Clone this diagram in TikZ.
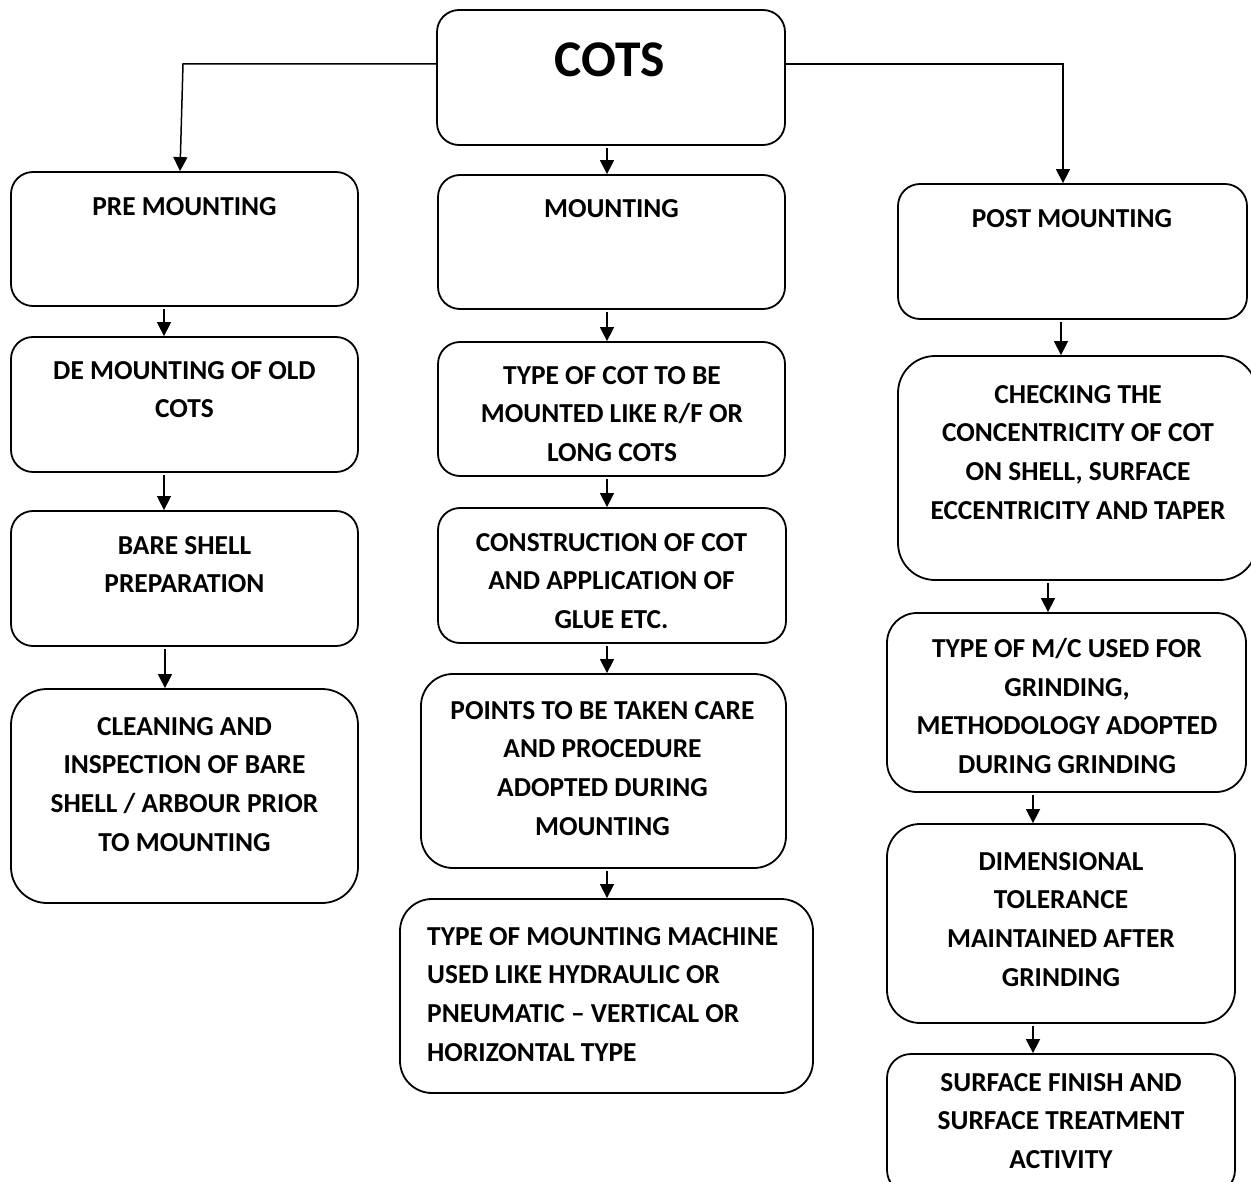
\documentclass[tikz,border=0pt]{standalone}
\usepackage{fontspec}
\setmainfont{Carlito}
\usetikzlibrary{arrows.meta}

\begin{document}
\begin{tikzpicture}
	[x=1pt,y=-1pt,
	box/.style={draw,line width=1.8pt,rounded corners=22pt,inner sep=0pt},
	txt/.style={anchor=north,inner sep=0pt,align=center,font=\bfseries\fontsize{27.4}{38.7}\selectfont},
	link/.style={->,line width=1.5pt,shorten <=2pt},
	>={Triangle[width=14pt,length=14pt]}]
	\useasboundingbox (0,0) rectangle (1251,1182);
	% top
	\node[box,minimum width=348pt,minimum height=135pt,name=cots] at (611,77.5) {};
	\node[txt,font=\bfseries\fontsize{51.5}{60}\selectfont,name=cotstxt] at (610,43) {COTS};
	% left column
	\node[box,minimum width=347pt,minimum height=134pt,name=pre] at (184.5,239) {};
	\node[box,minimum width=347pt,minimum height=135pt,name=demount] at (184.5,404.5) {};
	\node[box,minimum width=347pt,minimum height=135pt,name=bare] at (184.5,578.5) {};
	\node[box,minimum width=347pt,minimum height=214pt,rounded corners=36pt,name=clean] at (184.5,796) {};
	\node[txt,name=pretxt] at (184.5,197) {PRE MOUNTING};
	\node[txt,name=demounttxt] at (184.5,361) {DE MOUNTING OF OLD\\COTS};
	\node[txt,name=baretxt] at (184.5,536) {BARE SHELL\\PREPARATION};
	\node[txt,name=cleantxt] at (184.5,717) {CLEANING AND\\INSPECTION OF BARE\\SHELL / ARBOUR PRIOR\\TO MOUNTING};
	% middle column
	\node[box,minimum width=347pt,minimum height=134pt,name=mount] at (611.5,242) {};
	\node[box,minimum width=347pt,minimum height=134pt,name=cottype] at (611.5,409) {};
	\node[box,minimum width=348pt,minimum height=135pt,name=constr] at (612,575.5) {};
	\node[box,minimum width=365pt,minimum height=194pt,rounded corners=32pt,name=points] at (603.5,771) {};
	\node[box,minimum width=413pt,minimum height=194pt,rounded corners=32pt,name=machine] at (606.5,996) {};
	\node[txt,name=mounttxt] at (611.5,199) {MOUNTING};
	\node[txt,name=cottypetxt] at (612,366) {TYPE OF COT TO BE\\MOUNTED LIKE R/F OR\\LONG COTS};
	\node[txt,name=constrtxt] at (611.5,533) {CONSTRUCTION OF COT\\AND APPLICATION OF\\GLUE ETC.};
	\node[txt,name=pointstxt] at (602.5,701) {POINTS TO BE TAKEN CARE\\AND PROCEDURE\\ADOPTED DURING\\MOUNTING};
	\node[txt,anchor=north west,align=left,name=machinetxt] at (427,927) {TYPE OF MOUNTING MACHINE\\USED LIKE HYDRAULIC OR\\PNEUMATIC -- VERTICAL OR\\HORIZONTAL TYPE};
	% right column
	\node[box,minimum width=349pt,minimum height=135pt,name=post] at (1072.5,251.5) {};
	\node[box,minimum width=359pt,minimum height=224pt,rounded corners=37pt,name=check] at (1077.5,468) {};
	\node[box,minimum width=359pt,minimum height=179pt,rounded corners=30pt,name=grind] at (1066.5,702.5) {};
	\node[box,minimum width=348pt,minimum height=199pt,rounded corners=33pt,name=dim] at (1061,923.5) {};
	\node[box,minimum width=348pt,minimum height=140pt,rounded corners=24pt,name=surf] at (1061,1124) {};
	\node[txt,name=posttxt] at (1072,209) {POST MOUNTING};
	\node[txt,name=checktxt] at (1078,385) {CHECKING THE\\CONCENTRICITY OF COT\\ON SHELL, SURFACE\\ECCENTRICITY AND TAPER};
	\node[txt,name=grindtxt] at (1067,638) {TYPE OF M/C USED FOR\\GRINDING,\\METHODOLOGY ADOPTED\\DURING GRINDING};
	\node[txt,name=dimtxt] at (1061,852) {DIMENSIONAL\\TOLERANCE\\MAINTAINED AFTER\\GRINDING};
	\node[txt,name=surftxt] at (1061,1073) {SURFACE FINISH AND\\SURFACE TREATMENT\\ACTIVITY};
	% connectors
	\coordinate (lbend) at (183,64);
	\coordinate (rbend) at (1063,64);
	\draw[->,line width=1.5pt](cots.west |- lbend)--(lbend)--(pre.north -| 180,0);
	\draw[->,line width=1.5pt](cots.east |- rbend)--(rbend)--(post.north -| rbend);
	\draw[link](cots.south -| 607,0)--(mount.north -| 607,0);
	\draw[link](pre.south -| 164,0)--(demount.north -| 164,0);
	\draw[link](demount.south -| 164,0)--(bare.north -| 164,0);
	\draw[link](bare.south -| 165,0)--(clean.north -| 165,0);
	\draw[link](mount.south -| 607,0)--(cottype.north -| 607,0);
	\draw[link](cottype.south -| 607,0)--(constr.north -| 607,0);
	\draw[link](constr.south -| 607,0)--(points.north -| 607,0);
	\draw[link](points.south -| 607,0)--(machine.north -| 607,0);
	\draw[link](post.south -| 1061,0)--(check.north -| 1061,0);
	\draw[link](check.south -| 1048,0)--(grind.north -| 1048,0);
	\draw[link](grind.south -| 1033,0)--(dim.north -| 1033,0);
	\draw[link](dim.south -| 1033,0)--(surf.north -| 1033,0);
\end{tikzpicture}
\end{document}
